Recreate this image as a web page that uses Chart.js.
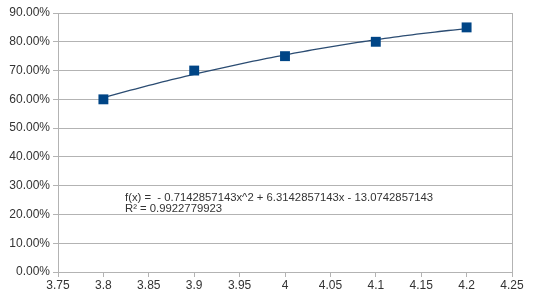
<!DOCTYPE html>
<html>
<head>
<meta charset="utf-8">
<script src="https://cdn.jsdelivr.net/npm/chart.js@4/dist/chart.umd.min.js"></script>
<style>
  html, body { margin: 0; padding: 0; background: #fff; }
  #wrap { width: 534px; height: 300px; position: relative; }
</style>
</head>
<body>
<div id="wrap"><canvas id="chart"></canvas></div>
<script>
// data
const xValues = [3.8, 3.9, 4, 4.1, 4.2];
const yValues = [0.60, 0.70, 0.75, 0.80, 0.85];
const xTicks = [3.75, 3.8, 3.85, 3.9, 3.95, 4, 4.05, 4.1, 4.15, 4.2, 4.25];
const yTicks = [0, 0.1, 0.2, 0.3, 0.4, 0.5, 0.6, 0.7, 0.8, 0.9];
// trendline coefficients as printed on the chart (a*x^2 + b*x + c)
const trendCoef = [-0.7142857143, 6.3142857143, -13.0742857143];
const trendLabel = [
  "f(x) =  - 0.7142857143x^2 + 6.3142857143x - 13.0742857143",
  "R\u00b2 = 0.9922779923"
];

const gridGray = "#b3b3b3";

// draws the polynomial trendline and its equation
const trendPlugin = {
  id: "trend",
  beforeDatasetsDraw(chart) {
    const ctx = chart.ctx;
    const xs = chart.scales.x, ys = chart.scales.y;
    const x0 = xValues[0], x1 = xValues[xValues.length - 1];
    ctx.save();
    ctx.beginPath();
    for (let i = 0; i <= 80; i++) {
      const x = x0 + (x1 - x0) * i / 80;
      const y = trendCoef[0] * x * x + trendCoef[1] * x + trendCoef[2];
      const px = xs.getPixelForValue(x), py = ys.getPixelForValue(y);
      if (i === 0) ctx.moveTo(px, py); else ctx.lineTo(px, py);
    }
    ctx.strokeStyle = "#2b4c72";
    ctx.lineWidth = 1.3;
    ctx.stroke();

    ctx.fillStyle = "#333333";
    ctx.font = "11.3px 'Liberation Sans', Arial, sans-serif";
    ctx.textBaseline = "middle";
    ctx.fillText(trendLabel[0], 125, 197.5);
    ctx.fillText(trendLabel[1], 125, 209);
    ctx.restore();
  }
};

new Chart(document.getElementById("chart"), {
  type: "scatter",
  data: {
    datasets: [{
      data: xValues.map((x, i) => ({ x: x, y: yValues[i] })),
      backgroundColor: "#004586",
      borderColor: "#004586",
      pointStyle: "rect",
      pointRadius: 7,
      pointHoverRadius: 7,
      borderWidth: 0
    }]
  },
  options: {
    responsive: true,
    maintainAspectRatio: false,
    animation: false,
    layout: { padding: { top: 13, right: 22, left: 0, bottom: 0 } },
    plugins: { legend: { display: false }, tooltip: { enabled: false } },
    scales: {
      x: {
        type: "linear",
        min: 3.75,
        max: 4.25,
        afterBuildTicks: (axis) => { axis.ticks = xTicks.map(v => ({ value: v })); },
        afterFit: (axis) => { axis.height = 28; },
        grid: {
          color: (c) => (c.index === 0 || c.index === xTicks.length - 1) ? gridGray : "rgba(0,0,0,0)",
          tickColor: gridGray,
          tickLength: 5
        },
        border: { color: gridGray },
        ticks: {
          color: "#333333",
          font: { family: "'Liberation Sans', Arial, sans-serif", size: 12 },
          padding: 1,
          maxRotation: 0,
          callback: (v) => String(v)
        }
      },
      y: {
        min: 0,
        max: 0.9,
        afterBuildTicks: (axis) => { axis.ticks = yTicks.map(v => ({ value: v })); },
        afterFit: (axis) => { axis.width = 58; },
        grid: { color: gridGray, tickColor: gridGray, tickLength: 5 },
        border: { color: gridGray },
        ticks: {
          color: "#333333",
          font: { family: "'Liberation Sans', Arial, sans-serif", size: 12 },
          padding: 3,
          callback: (v) => (v * 100).toFixed(2) + "%"
        }
      }
    }
  },
  plugins: [trendPlugin]
});
</script>
</body>
</html>
